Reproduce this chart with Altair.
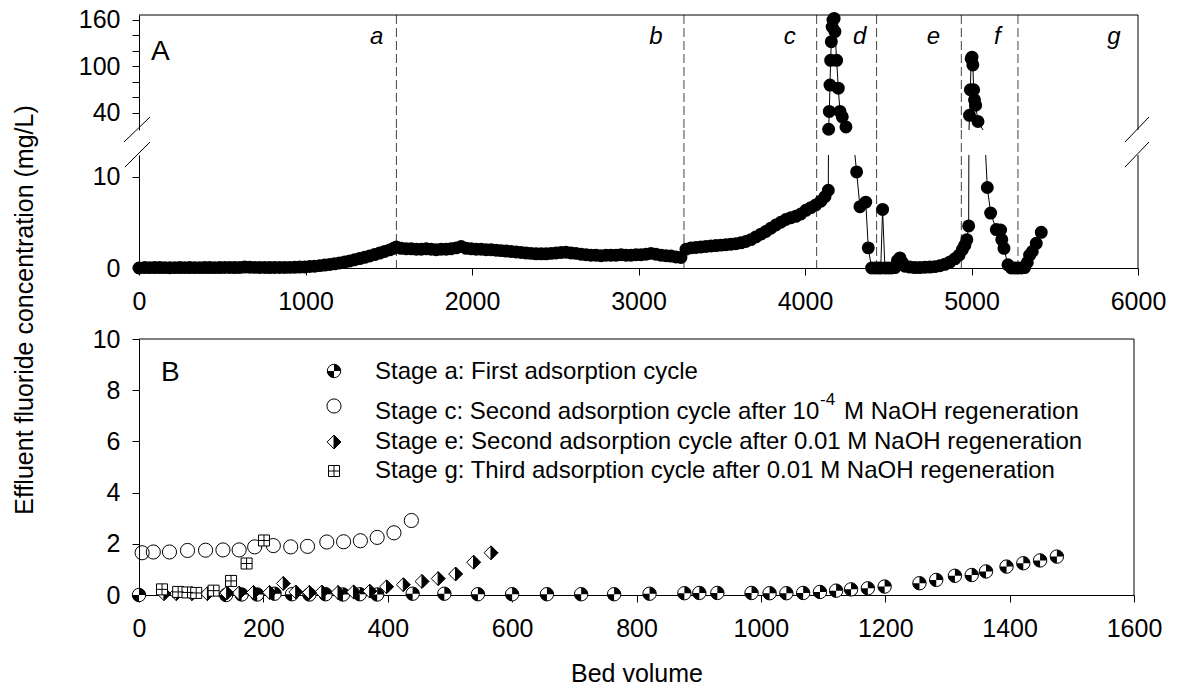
import altair as alt
import pandas as pd

FONT = "Liberation Sans"

# ---------------- Panel A: effluent fluoride vs bed volume ----------------
a_bv = [0, 35, 65, 95, 125, 155, 185, 215, 245, 275,
        305, 335, 365, 395, 425, 455, 485, 515, 545, 575,
        605, 635, 665, 695, 725, 755, 785, 815, 845, 875,
        905, 935, 965, 995, 1025, 1055, 1085, 1115, 1145, 1175,
        1205, 1235, 1265, 1295, 1325, 1355, 1385, 1415, 1445, 1475,
        1505, 1530, 1546]
a_conc = [0.0, 0.05, 0.04, 0.05, 0.05, 0.04, 0.03, 0.04, 0.05, 0.04,
          0.05, 0.04, 0.04, 0.05, 0.05, 0.04, 0.05, 0.06, 0.06, 0.05,
          0.06, 0.1, 0.08, 0.07, 0.06, 0.06, 0.05, 0.06, 0.06, 0.06,
          0.07, 0.08, 0.1, 0.12, 0.16, 0.2, 0.26, 0.32, 0.38, 0.46,
          0.55, 0.65, 0.77, 0.9, 1.03, 1.17, 1.32, 1.47, 1.63, 1.8,
          1.98, 2.15, 2.3]
b_bv = [1575, 1605, 1635, 1665, 1695, 1725, 1755, 1785, 1815, 1845,
        1875, 1905, 1935, 1965, 1995, 2025, 2055, 2085, 2115, 2145,
        2175, 2205, 2235, 2265, 2295, 2325, 2355, 2385, 2415, 2445,
        2475, 2505, 2535, 2565, 2595, 2625, 2655, 2685, 2715, 2745,
        2775, 2805, 2835, 2865, 2895, 2925, 2955, 2985, 3015, 3045,
        3075, 3105, 3135, 3165, 3195, 3225, 3255]
b_conc = [2.15, 2.1, 2.1, 2.05, 2.05, 2.1, 2.05, 2.0, 2.05, 2.05,
          2.1, 2.2, 2.35, 2.15, 2.1, 2.05, 2.05, 2.0, 2.0, 1.95,
          1.9, 1.85, 1.8, 1.75, 1.7, 1.65, 1.6, 1.55, 1.55, 1.55,
          1.6, 1.65, 1.7, 1.72, 1.65, 1.6, 1.5, 1.45, 1.4, 1.4,
          1.35, 1.4, 1.4, 1.4, 1.45, 1.4, 1.4, 1.45, 1.45, 1.5,
          1.6, 1.5, 1.4, 1.35, 1.3, 1.2, 1.15]
c_bv = [3285, 3315, 3345, 3375, 3405, 3435, 3465, 3495, 3525, 3555,
        3585, 3615, 3645, 3675, 3705, 3735, 3765, 3795, 3825, 3855,
        3885, 3915, 3945, 3975, 4005, 4035, 4065, 4095, 4120, 4140]
c_conc = [2.05, 2.2, 2.25, 2.3, 2.35, 2.4, 2.45, 2.5, 2.55, 2.6,
          2.65, 2.75, 2.9, 3.1, 3.4, 3.7, 4.0, 4.35, 4.7, 5.0,
          5.3, 5.5, 5.65, 5.9, 6.3, 6.6, 6.9, 7.3, 7.8, 8.5]
p1_bv = [4142, 4146, 4150, 4154, 4158, 4163, 4168, 4175, 4180, 4190, 4200, 4210, 4224, 4246]
p1_conc = [19, 42, 76, 108, 132, 151, 160, 162, 145, 108, 72, 42, 35, 22]
d_bv = [4310, 4330, 4365, 4380, 4400, 4420, 4440, 4455, 4466, 4480,
        4500, 4520, 4540, 4555, 4570, 4585, 4600]
d_conc = [10.5, 6.7, 7.2, 2.2, 0.0, 0.0, 0.0, 0.0, 6.4, 0.0,
          0.0, 0.0, 0.05, 0.8, 1.1, 0.6, 0.2]
e_bv = [4630, 4660, 4690, 4720, 4750, 4780, 4810, 4840, 4870, 4900,
        4925, 4945, 4960, 4972, 4983]
e_conc = [0.1, 0.05, 0.05, 0.08, 0.1, 0.15, 0.25, 0.4, 0.65, 1.0,
          1.4, 2.0, 2.5, 3.1, 4.6]
p2_bv = [4988, 4993, 4998, 5003, 5008, 5013, 5018, 5025, 5039]
p2_conc = [37, 70, 110, 112, 102, 70, 57, 50, 29]
f_bv = [5095, 5115, 5149, 5175, 5182, 5195, 5219, 5239, 5259, 5279,
        5299, 5319, 5335, 5349, 5365, 5389, 5419]
f_conc = [8.8, 6.0, 4.2, 4.15, 3.1, 2.15, 0.35, 0.0, 0.0, 0.0,
          0.0, 0.05, 0.6, 1.4, 1.8, 2.7, 3.9]

stage_bounds = [1546, 3273, 4070, 4430, 4939, 5279]
stage_letters = ["a", "b", "c", "d", "e", "f", "g"]
stage_letter_bv = [1427, 3105, 3908, 4328, 4771, 5155, 5856]

xA_ticks = [0, 1000, 2000, 3000, 4000, 5000, 6000]
yA_up_ticks = [40, 60, 80, 100, 120, 140, 160]
yA_lo_ticks = [0, 10]

# ---------------- Panel B: breakthrough curves ----------------
sa_bv = [0, 140, 165, 190, 218, 246, 274, 300, 328, 355,
         383, 440, 491, 545, 600, 656, 711, 764, 821, 877,
         901, 930, 985, 1014, 1041, 1068, 1095, 1121, 1145, 1172,
         1199, 1255, 1282, 1312, 1339, 1362, 1395, 1422, 1449, 1476]
sa_conc = [0.0, 0.0, 0.02, 0.02, 0.05, 0.03, 0.02, 0.03, 0.02, 0.03,
           0.02, 0.05, 0.05, 0.03, 0.03, 0.03, 0.03, 0.03, 0.05, 0.07,
           0.08, 0.08, 0.08, 0.07, 0.07, 0.08, 0.12, 0.17, 0.22, 0.26,
           0.33, 0.46, 0.59, 0.75, 0.78, 0.92, 1.11, 1.24, 1.35, 1.5]
sc_bv = [5, 23, 49, 78, 107, 135, 161, 186, 216, 244, 271, 302, 329, 356, 383, 410, 438]
sc_conc = [1.65, 1.68, 1.68, 1.74, 1.75, 1.76, 1.76, 1.88, 1.93, 1.88,
           1.9, 2.07, 2.08, 2.12, 2.25, 2.43, 2.91]
se_bv = [40, 60, 85, 110, 141, 161, 184, 210, 232, 252, 274,
         294, 320, 345, 371, 398, 425, 455, 481, 509, 538, 566]
se_conc = [0.05, 0.05, 0.05, 0.05, 0.08, 0.08, 0.1, 0.1, 0.45, 0.12, 0.1,
           0.12, 0.1, 0.12, 0.15, 0.32, 0.4, 0.53, 0.64, 0.82, 1.28, 1.65]
sg_bv = [37, 63, 78, 92, 120, 148, 173, 201]
sg_conc = [0.22, 0.12, 0.1, 0.08, 0.17, 0.55, 1.23, 2.13]

xB_ticks = [0, 200, 400, 600, 800, 1000, 1200, 1400, 1600]
yB_ticks = [0, 2, 4, 6, 8, 10]

legend_a = "Stage a: First adsorption cycle"
legend_c1 = "Stage c: Second adsorption cycle after 10"
legend_c_sup = "-4"
legend_c2 = "M NaOH regeneration"
legend_e = "Stage e: Second adsorption cycle after 0.01 M NaOH regeneration"
legend_g = "Stage g: Third adsorption cycle after 0.01 M NaOH regeneration"
y_title = "Effluent fluoride concentration (mg/L)"
x_title = "Bed volume"

# ---------------- geometry ----------------
W_A, W_B = 999, 995
H_UP, H_LO, H_B = 115, 113, 256
GAP = 25
UP_DOM = [18.06, 166.45]
LO_DOM = [0, 12.35]
BREAK = 13
A_SIZE = 168

one = pd.DataFrame({"k": [0]})

A_bv = a_bv + b_bv + c_bv + p1_bv + d_bv + e_bv + p2_bv + f_bv
A_conc = a_conc + b_conc + c_conc + p1_conc + d_conc + e_conc + p2_conc + f_conc
dfA = pd.DataFrame({"bv": A_bv, "conc": A_conc})
dfA["idx"] = list(range(len(dfA)))
dfBounds = pd.DataFrame({"bv": stage_bounds})
dfLetters = pd.DataFrame({"bv": stage_letter_bv, "lab": stage_letters})

xA_scale = alt.Scale(domain=[0, 6000], nice=False, zero=False)


def seg(x1, y1, x2, y2):
    return alt.Chart(one).mark_rule(color="black", strokeWidth=1).encode(
        x=alt.value(x1), y=alt.value(y1), x2=alt.value(x2), y2=alt.value(y2))


def label(txt, x, y, size, **kw):
    return alt.Chart(one).mark_text(font=FONT, fontSize=size, color="black", **kw).encode(
        x=alt.value(x), y=alt.value(y), text=alt.value(txt))


# ----- A upper segment -----
xUp = alt.X("bv:Q", scale=xA_scale, axis=None)
yUp = alt.Y("conc:Q", scale=alt.Scale(domain=UP_DOM, nice=False, zero=False),
            axis=alt.Axis(values=yA_up_ticks, title=None, format="d",
                          labelExpr="(datum.value==40||datum.value==100||datum.value==160)?datum.label:''"))

up_dash = alt.Chart(dfBounds).mark_rule(color="#444", strokeWidth=1, strokeDash=[9, 4]).encode(x=xUp)
up_line = alt.Chart(dfA).mark_line(color="black", strokeWidth=1, clip=True).encode(
    x=xUp, y=yUp, order="idx:Q")
up_pts = alt.Chart(dfA).transform_filter(alt.datum.conc >= BREAK).mark_circle(
    color="black", size=A_SIZE, opacity=1).encode(x=xUp, y=yUp)
up_letters = alt.Chart(dfLetters).mark_text(
    font=FONT, fontSize=24, fontStyle="italic", color="black", baseline="alphabetic", align="center"
).encode(x=xUp, y=alt.value(29), text="lab:N")
upper = alt.layer(
    up_dash, up_line, up_pts, up_letters,
    label("A", 12, 45, 28, align="left", baseline="alphabetic"),
    seg(0, 0, W_A, 0), seg(W_A, 0, W_A, H_UP),
).properties(width=W_A, height=H_UP)

# ----- A lower segment -----
xLo = alt.X("bv:Q", scale=xA_scale, axis=alt.Axis(values=xA_ticks, title=None, format="d"))
yLo = alt.Y("conc:Q", scale=alt.Scale(domain=LO_DOM, nice=False, zero=False),
            axis=alt.Axis(values=yA_lo_ticks, title=None, format="d"))
lo_dash = alt.Chart(dfBounds).mark_rule(color="#444", strokeWidth=1, strokeDash=[9, 4]).encode(
    x=xLo, y=alt.value(-GAP), y2=alt.value(H_LO))
lo_line = alt.Chart(dfA).mark_line(color="black", strokeWidth=1, clip=True).encode(
    x=xLo, y=yLo, order="idx:Q")
lo_pts = alt.Chart(dfA).transform_filter(alt.datum.conc < BREAK).mark_circle(
    color="black", size=A_SIZE, opacity=1).encode(x=xLo, y=yLo)
lower = alt.layer(
    lo_dash, lo_line, lo_pts,
    seg(W_A, 0, W_A, H_LO),
    seg(-15, -13, 11, -38), seg(-14, 12, 11, -13),
    seg(W_A - 13, -13, W_A + 11, -38), seg(W_A - 13, 12, W_A + 11, -13),
).properties(width=W_A, height=H_LO)

# ----- spacer between panels -----
spacer = alt.Chart(one).mark_point(opacity=0).encode(
    x=alt.value(0), y=alt.value(0)).properties(width=W_B, height=21)

# ----- Panel B -----
QUAD = "M0,0 L0,-1 A1,1 0 0,1 1,0 Z M0,0 L0,1 A1,1 0 0,1 -1,0 Z"
DIAM = "M0,-1 L1,0 L0,1 L-1,0 Z"
DIAM_R = "M0,-1 L1,0 L0,1 Z"
SQ = "M-1,-1 L1,-1 L1,1 L-1,1 Z"
CROSS = "M0,-1 L0,1 M-1,0 L1,0"

xB = alt.X("bv:Q", scale=alt.Scale(domain=[0, 1600], nice=False, zero=False),
           axis=alt.Axis(values=xB_ticks, title=x_title, format="d"))
yB = alt.Y("conc:Q", scale=alt.Scale(domain=[0, 10], nice=False, zero=False),
           axis=alt.Axis(values=yB_ticks, title=None, format="d"))


def markers(kind, data, x, y):
    c = alt.Chart(data)
    if kind == "a":
        return [c.mark_point(shape="circle", size=180, filled=True, fill="white", stroke="black",
                             strokeWidth=1, opacity=1).encode(x=x, y=y),
                c.mark_point(shape=QUAD, size=180, filled=True, fill="black", strokeWidth=0,
                             opacity=1).encode(x=x, y=y)]
    if kind == "c":
        return [c.mark_point(shape="circle", size=200, filled=False, color="black",
                             strokeWidth=1, opacity=1).encode(x=x, y=y)]
    if kind == "e":
        return [c.mark_point(shape=DIAM, size=190, filled=True, fill="white", stroke="black",
                             strokeWidth=1, opacity=1).encode(x=x, y=y),
                c.mark_point(shape=DIAM_R, size=190, filled=True, fill="black", stroke="black",
                             strokeWidth=1, opacity=1).encode(x=x, y=y)]
    return [c.mark_point(shape=SQ, size=121, filled=True, fill="white", stroke="black",
                         strokeWidth=1, opacity=1).encode(x=x, y=y),
            c.mark_point(shape=CROSS, size=121, filled=False, color="black",
                         strokeWidth=1, opacity=1).encode(x=x, y=y)]


dfSA = pd.DataFrame({"bv": sa_bv, "conc": sa_conc})
dfSC = pd.DataFrame({"bv": sc_bv, "conc": sc_conc})
dfSE = pd.DataFrame({"bv": se_bv, "conc": se_conc})
dfSG = pd.DataFrame({"bv": sg_bv, "conc": sg_conc})

LX_SYM, LX_TXT = 195, 236
b_layers = (markers("a", dfSA, xB, yB) + markers("c", dfSC, xB, yB)
            + markers("e", dfSE, xB, yB) + markers("g", dfSG, xB, yB))
b_layers += markers("a", one, alt.value(LX_SYM), alt.value(32))
b_layers += markers("c", one, alt.value(LX_SYM), alt.value(67))
b_layers += markers("e", one, alt.value(LX_SYM), alt.value(103))
b_layers += markers("g", one, alt.value(LX_SYM), alt.value(132))
b_layers += [
    label(legend_a, LX_TXT, 33, 24, align="left", baseline="middle"),
    label(legend_c1, LX_TXT, 73, 24, align="left", baseline="middle"),
    label(legend_c_sup, 681, 61, 17, align="left", baseline="middle"),
    label(legend_c2, 705, 73, 24, align="left", baseline="middle"),
    label(legend_e, LX_TXT, 103, 24, align="left", baseline="middle"),
    label(legend_g, LX_TXT, 132, 24, align="left", baseline="middle"),
    label("B", 22, 42, 28, align="left", baseline="alphabetic"),
    label(y_title, -114, -29, 25, align="center", baseline="middle", angle=270),
    seg(0, 0, W_B, 0), seg(W_B, 0, W_B, H_B),
]
panelB = alt.layer(*b_layers).properties(width=W_B, height=H_B)

chart = alt.vconcat(upper, lower, spacer, panelB, spacing=GAP, bounds="flush").resolve_scale(
    x="independent", y="independent")

chart = chart.properties(
    padding={"left": 12, "top": 7, "right": 5, "bottom": 2},
    background="white",
).configure_view(stroke=None).configure_axis(
    labelFont=FONT, labelFontSize=25, labelColor="black",
    titleFont=FONT, titleFontSize=25, titleColor="black", titleFontWeight="normal",
    domainColor="black", domainWidth=1, tickColor="black", tickWidth=1, tickSize=7,
    grid=False, labelFlush=False, labelOverlap=False, labelBound=False,
).configure_axisX(labelPadding=14, titlePadding=20).configure_axisY(labelPadding=12)

chart.save("out.html", embed_options={"renderer": "svg", "actions": False})
